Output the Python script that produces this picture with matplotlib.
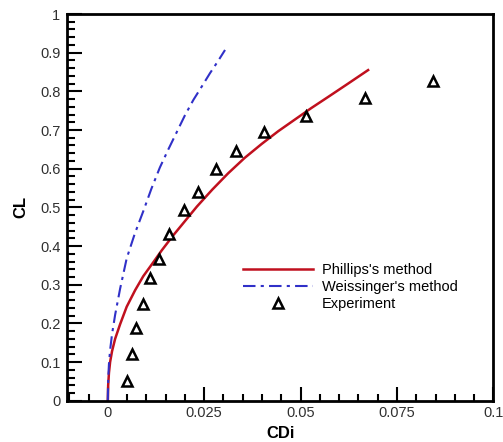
import matplotlib
matplotlib.use("Agg")
import matplotlib.pyplot as plt
from matplotlib.ticker import MultipleLocator

plt.rcParams['font.family'] = ['Liberation Sans', 'DejaVu Sans']

# Phillips's method
phillips_cdi = [0.0, 0.0001, 0.0003, 0.0006, 0.0011, 0.0019, 0.0032, 0.0049, 0.0071, 0.0092, 0.0118,
                0.0140, 0.0170, 0.0203, 0.0231, 0.0271, 0.0312, 0.0355, 0.0399, 0.0442, 0.0485,
                0.0528, 0.0572, 0.0623, 0.0675]
phillips_cl  = [0.0, 0.040, 0.072, 0.100, 0.128, 0.160, 0.198, 0.243, 0.286, 0.322, 0.358,
                0.389, 0.428, 0.468, 0.502, 0.546, 0.588, 0.628, 0.664, 0.697, 0.727,
                0.757, 0.786, 0.820, 0.855]

# Weissinger's method
weiss_cdi = [0.0, 0.0001, 0.0003, 0.0006, 0.0011, 0.0019, 0.0032, 0.0049, 0.0070, 0.0092, 0.0113,
             0.0135, 0.0157, 0.0179, 0.0200, 0.0222, 0.0244, 0.0265, 0.0285, 0.0304]
weiss_cl  = [0.0, 0.055, 0.095, 0.131, 0.172, 0.222, 0.290, 0.368, 0.432, 0.490, 0.548,
             0.603, 0.650, 0.695, 0.738, 0.778, 0.813, 0.847, 0.877, 0.907]

# Experiment
exp_cdi = [0.0051, 0.0064, 0.0074, 0.0091, 0.0109, 0.0132, 0.0160, 0.0198, 0.0234, 0.0280, 0.0332, 0.0406, 0.0513, 0.0668, 0.0842]
exp_cl  = [0.052, 0.121, 0.188, 0.250, 0.317, 0.366, 0.431, 0.493, 0.539, 0.599, 0.646, 0.694, 0.736, 0.782, 0.826]

fig = plt.figure(figsize=(5.03, 4.42), dpi=100)
ax = fig.add_axes([0.1338, 0.0934, 0.981 - 0.1338, 0.9683 - 0.0934])

ax.plot(phillips_cdi, phillips_cl, color='#c0101e', lw=1.8, label="Phillips's method")
ax.plot(weiss_cdi, weiss_cl, color='#3030c8', lw=1.5, linestyle=(0, (6, 2.5, 1.5, 2.5)),
        label="Weissinger's method")
ax.plot(exp_cdi, exp_cl, linestyle='none', marker='^', markersize=7.5, markerfacecolor='white',
        markeredgecolor='black', markeredgewidth=1.8, label='Experiment')

ax.set_xlim(-0.0105, 0.1)
ax.set_ylim(0, 1)
ax.xaxis.set_minor_locator(MultipleLocator(0.005))
ax.yaxis.set_minor_locator(MultipleLocator(0.02))
ax.set_xticks([0, 0.025, 0.05, 0.075, 0.1])
ax.set_xticklabels(['0', '0.025', '0.05', '0.075', '0.1'])
ax.set_yticks([i / 10 for i in range(11)])
ax.set_yticklabels(['0', '0.1', '0.2', '0.3', '0.4', '0.5', '0.6', '0.7', '0.8', '0.9', '1'])

ax.tick_params(which='both', direction='in', top=False, right=False, colors='black',
               labelcolor='#303030', labelsize=10.5, width=1.5)
ax.tick_params(axis='y', which='major', length=11, pad=5)
ax.tick_params(axis='y', which='minor', length=6)
ax.tick_params(axis='x', which='major', length=10, pad=4)
ax.tick_params(axis='x', which='minor', length=5)
for s in ax.spines.values():
    s.set_linewidth(2)

ax.set_xlabel('CDi', fontsize=12, fontweight='bold', labelpad=4)
ax.set_ylabel('CL', fontsize=12, fontweight='bold', labelpad=8)

leg = ax.legend(loc='upper left', bbox_to_anchor=(0.395, 0.375), frameon=False, fontsize=10.5,
                handlelength=4.8, handletextpad=0.6, labelspacing=0.2, borderpad=0, numpoints=1)

fig.savefig('out.png', dpi=100)
